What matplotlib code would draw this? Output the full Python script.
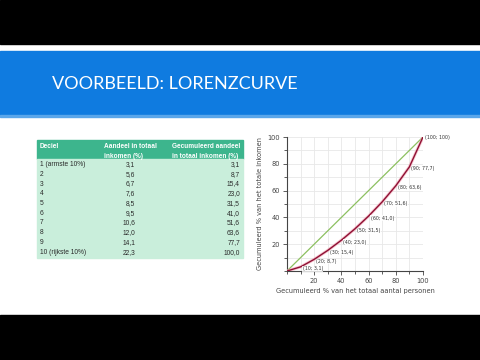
import numpy as np
import matplotlib
matplotlib.use("Agg")
import matplotlib.pyplot as plt
from matplotlib.patches import Rectangle
from matplotlib.ticker import MultipleLocator

# data
deciel = ["1 (armste 10%)", "2", "3", "4", "5", "6", "7", "8", "9", "10 (rijkste 10%)"]
aandeel = ["3,1", "5,6", "6,7", "7,6", "8,5", "9,5", "10,6", "12,0", "14,1", "22,3"]
gecum_txt = ["3,1", "8,7", "15,4", "23,0", "31,5", "41,0", "51,6", "63,6", "77,7", "100,0"]
pers = [0, 10, 20, 30, 40, 50, 60, 70, 80, 90, 100]
inkomen = [0, 3.1, 8.7, 15.4, 23.0, 31.5, 41.0, 51.6, 63.6, 77.7, 100]
punt_labels = ["(10; 3,1)", "(20; 8,7)", "(30; 15,4)", "(40; 23,0)", "(50; 31,5)",
               "(60; 41,0)", "(70; 51,6)", "(80; 63,6)", "(90; 77,7)", "(100; 100)"]

fig = plt.figure(figsize=(4.8, 3.6), dpi=100)
bg = fig.add_axes([0, 0, 1, 1])
bg.set_xlim(0, 480)
bg.set_ylim(360, 0)
bg.axis("off")

# slide background
bg.add_patch(Rectangle((0, 0), 480, 360, color="white", zorder=0))
bg.add_patch(Rectangle((0, 0), 480, 44, color="black", zorder=0))
bg.add_patch(Rectangle((0, 51), 480, 65, color="#0f7be0", zorder=0))
bg.add_patch(Rectangle((0, 115), 480, 1.5, color="#5aa6ea", zorder=0))
bg.add_patch(Rectangle((0, 315), 480, 45, color="black", zorder=0))
bg.text(52, 84, "VOORBEELD: LORENZCURVE", color="white", fontsize=13,
        family="Lato", va="center", ha="left", zorder=5)

# table
tx0, tx1 = 37, 243
bg.add_patch(Rectangle((tx0, 140), tx1 - tx0, 19, color="#3db58d"))
bg.add_patch(Rectangle((tx0, 159), tx1 - tx0, 99, color="#c9eedb"))
hdr = dict(color="white", fontsize=4.7, fontweight="bold", family="Liberation Sans",
           va="top", linespacing=1.5)
bg.text(40, 143, "Deciel", ha="left", **hdr)
bg.text(104, 143, "Aandeel in totaal\ninkomen (%)", ha="left", **hdr)
bg.text(172, 143, "Gecumuleerd aandeel\nin totaal inkomen (%)", ha="left", **hdr)
body = dict(color="#2a2a2a", fontsize=4.8, family="Liberation Sans", va="center")
for i in range(len(deciel)):
    y = 164.5 + i * 9.75
    bg.text(40, y, deciel[i], ha="left", **body)
    bg.text(135, y, aandeel[i], ha="right", **body)
    bg.text(240, y, gecum_txt[i], ha="right", **body)

# Lorenz chart
ax = fig.add_axes([287 / 480, 89 / 360, 136 / 480, 134 / 360])
ax.set_facecolor("white")
ax.plot([0, 100], [0, 100], color="#8cc060", lw=0.9, zorder=3)
ax.plot(pers, inkomen, color="#f2a0b0", lw=2.2, alpha=0.6, zorder=3)
ax.plot(pers, inkomen, color="#8e1034", lw=1.0, zorder=4)
for xv, yv, lab in zip(pers[1:], inkomen[1:], punt_labels):
    if xv == 100:
        ax.text(xv + 1.5, yv, lab, fontsize=3.4, color="#333333", va="center", ha="left",
                clip_on=False)
    else:
        ax.text(xv + 1.5, yv - 1.5, lab, fontsize=3.4, color="#333333", va="center",
                ha="left", zorder=5,
                bbox=dict(facecolor="white", edgecolor="none", pad=0.2, alpha=0.8))
ax.set_xlim(0, 100)
ax.set_ylim(0, 100)
ax.set_xticks([20, 40, 60, 80, 100])
ax.set_yticks([20, 40, 60, 80, 100])
ax.xaxis.set_minor_locator(MultipleLocator(10))
ax.yaxis.set_minor_locator(MultipleLocator(10))
ax.grid(True, which="both", color="#e8e8e8", lw=0.6)
ax.set_axisbelow(True)
for s in ["top", "right"]:
    ax.spines[s].set_visible(False)
for s in ["left", "bottom"]:
    ax.spines[s].set_color("#444444")
    ax.spines[s].set_linewidth(0.8)
ax.tick_params(which="both", labelsize=4.8, colors="#444444", length=3, width=0.6,
               pad=2)
ax.tick_params(which="minor", length=2)
ax.set_xlabel("Gecumuleerd % van het totaal aantal personen", fontsize=4.8,
              color="#444444", labelpad=3)
ax.set_ylabel("Gecumuleerd % van het totale inkomen", fontsize=4.8,
              color="#444444", labelpad=3)

fig.savefig("out.png", dpi=100)
